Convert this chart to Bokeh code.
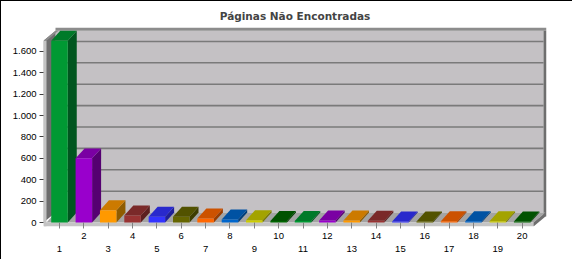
from bokeh.plotting import figure
from bokeh.models import Range1d, LinearAxis, FixedTicker, CustomJSTickFormatter, Div
from bokeh.layouts import column, row
from bokeh.embed import file_html
from bokeh.resources import INLINE

# ---------------- data ----------------
title_text = "Páginas Não Encontradas"
categories = list(range(1, 21))
tick_labels = ["1", "2", "3", "4", "5", "6", "7", "8", "9", "10",
               "11", "12", "13", "14", "15", "16", "17", "18", "19", "20"]
values = [1700, 600, 115, 65, 55, 55, 37, 28, 22, 14,
          14, 19, 19, 16, 10, 10, 13, 13, 12, 10]
y_ticks = [0, 200, 400, 600, 800, 1000, 1200, 1400, 1600]
y_max = 1700

front_palette = ["#009933", "#9900CC", "#FF9900", "#993333", "#3333FF",
                 "#666600", "#FF6600", "#0066CC", "#CCCC00", "#006600"]
top_palette = ["#007A29", "#7A00A3", "#CC7A00", "#7A2929", "#2929CC",
               "#525200", "#CC5200", "#0052A3", "#A3A300", "#005200"]
side_palette = ["#00561F", "#550071", "#8F5C00", "#5C1F1F", "#1F1F99",
                "#3D3D00", "#993D00", "#003D7A", "#7A7A00", "#003D00"]

# ---------------- geometry (style constants) ----------------
PX_PER_CAT = 24.35
PX_PER_UNIT = 0.1075
FRAME_W, FRAME_H = 503, 200
x_start = 1 - 16 / PX_PER_CAT
x_end = x_start + FRAME_W / PX_PER_CAT
y_start = -4 / PX_PER_UNIT
y_end = y_start + FRAME_H / PX_PER_UNIT


def cx(px):
    return px / PX_PER_CAT


def cy(px):
    return px / PX_PER_UNIT


WDX, WDY = cx(12), cy(10)
wall_t = cx(3)
back_left = x_start + WDX
back_right = x_end - cx(3)
floor_right = x_end - cx(13)
half_w = cx(8.25)
BDX, BDY = cx(9), cy(10)

WALL = "#C4C1C4"
CAP = "#8C8C8C"
DARK = "#6E6E6E"
FLOOR_TOP = "#A4A4A4"
FLOOR_FRONT = "#C4C4C4"

p = figure(width=571, height=258, output_backend="svg", toolbar_location=None,
           x_axis_type=None, y_axis_type=None,
           x_range=Range1d(x_start, x_end), y_range=Range1d(y_start, y_end),
           min_border_left=42, min_border_right=26, min_border_top=25,
           min_border_bottom=33, margin=0)
p.background_fill_color = "white"
p.border_fill_color = "white"
p.outline_line_color = None
p.title.text = title_text
p.title.align = "center"
p.title.text_font = "DejaVu Sans"
p.title.text_font_style = "bold"
p.title.text_font_size = "10.5px"
p.title.standoff = 12

# back wall
p.quad(left=back_left, right=back_right, bottom=WDY, top=y_max + WDY,
       fill_color=WALL, line_color=None)
p.segment(x0=[back_left] * (len(y_ticks) - 1), y0=[t + WDY for t in y_ticks[1:]],
          x1=[back_right] * (len(y_ticks) - 1), y1=[t + WDY for t in y_ticks[1:]],
          line_color="#7A7A7A", line_width=1.6)
# top cap and right wall
p.quad(left=back_left, right=x_end, bottom=y_max + WDY, top=y_end,
       fill_color=CAP, line_color=None)
p.quad(left=back_right, right=x_end, bottom=WDY + y_start, top=y_max + WDY,
       fill_color=DARK, line_color=None)
# left wall
p.patch(x=[x_start, back_left, back_left, x_start],
        y=[y_max, y_max + WDY, WDY, 0], fill_color=DARK, line_color=None)
p.patch(x=[x_start, back_left, back_left + wall_t, x_start + wall_t],
        y=[y_max, y_max + WDY, y_max + WDY, y_max], fill_color=CAP, line_color=None)
p.quad(left=x_start, right=x_start + wall_t, bottom=y_start, top=y_max,
       fill_color=FLOOR_FRONT, line_color=None)
# floor
p.patch(x=[x_start + wall_t, floor_right, floor_right + WDX, back_left],
        y=[0, 0, WDY, WDY], fill_color=FLOOR_TOP, line_color=None)
p.quad(left=x_start, right=floor_right, bottom=y_start, top=0,
       fill_color=FLOOR_FRONT, line_color=None)
p.patch(x=[floor_right, floor_right + WDX, floor_right + WDX, floor_right],
        y=[0, WDY, WDY + y_start, y_start], fill_color=DARK, line_color=None)

# bars
fc = [front_palette[i % 10] for i in range(len(values))]
tc = [top_palette[i % 10] for i in range(len(values))]
sc = [side_palette[i % 10] for i in range(len(values))]
side_xs = [[c + half_w, c + half_w + BDX, c + half_w + BDX, c + half_w] for c in categories]
side_ys = [[0, BDY, v + BDY, v] for v in values]
top_xs = [[c - half_w, c + half_w, c + half_w + BDX, c - half_w + BDX] for c in categories]
top_ys = [[v, v, v + BDY, v + BDY] for v in values]
p.patches(xs=side_xs, ys=side_ys, fill_color=sc, line_color=None)
p.patches(xs=top_xs, ys=top_ys, fill_color=tc, line_color=None)
p.quad(left=[c - half_w for c in categories], right=[c + half_w for c in categories],
       bottom=0, top=values, fill_color=fc, line_color=None)

# axes
fmt = CustomJSTickFormatter(code=r"return tick.toFixed(0).replace(/\B(?=(\d{3})+(?!\d))/g, '.');")
yax = LinearAxis(ticker=FixedTicker(ticks=y_ticks), formatter=fmt,
                 axis_line_color=None, major_tick_in=0, major_tick_out=4,
                 major_tick_line_color="#404040", minor_tick_line_color=None,
                 major_label_standoff=3, major_label_text_font="Liberation Sans",
                 major_label_text_font_size="9.5px", major_label_text_color="black")
p.add_layout(yax, "left")

even_over = {c: (lab if c % 2 == 0 else "") for c, lab in zip(categories, tick_labels)}
odd_ticks = [c for c in categories if c % 2 == 1]
odd_over = {c: lab for c, lab in zip(categories, tick_labels) if c % 2 == 1}
xax1 = LinearAxis(ticker=FixedTicker(ticks=categories), major_label_overrides=even_over,
                  axis_line_color=None, major_tick_in=4, major_tick_out=2,
                  major_tick_line_color="#808080", minor_tick_line_color=None,
                  major_label_standoff=4, major_label_text_font="Liberation Sans",
                  major_label_text_font_size="9.5px", major_label_text_color="black")
xax2 = LinearAxis(ticker=FixedTicker(ticks=odd_ticks), major_label_overrides=odd_over,
                  axis_line_color=None, major_tick_in=0, major_tick_out=0,
                  major_tick_line_color=None, minor_tick_line_color=None,
                  major_label_standoff=4, major_label_text_font="Liberation Sans",
                  major_label_text_font_size="9.5px", major_label_text_color="black")
p.add_layout(xax1, "below")
p.add_layout(xax2, "below")

# 1px black frame on the top and left edges of the image
top_line = Div(text="", width=572, height=1, margin=0,
               styles={"background-color": "black"})
left_line = Div(text="", width=1, height=258, margin=0,
                styles={"background-color": "black"})
layout = column(top_line, row(left_line, p, spacing=0, margin=0), spacing=0, margin=0)

open("out.html", "w").write(file_html(layout, INLINE))
